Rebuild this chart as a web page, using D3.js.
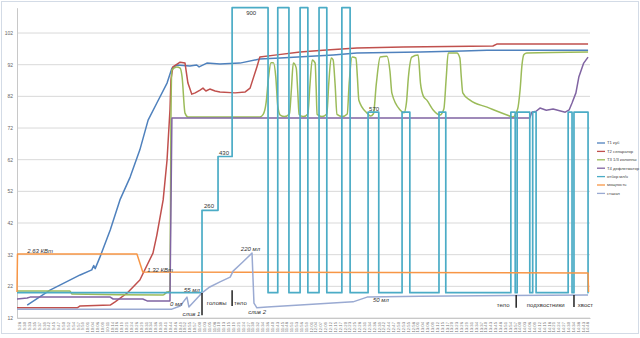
<!DOCTYPE html>
<html>
<head>
<meta charset="utf-8">
<script src="https://cdn.jsdelivr.net/npm/d3@7"></script>
<style>
  body { margin: 0; background: #fff; }
  svg text { font-family: "Liberation Sans", Arial, sans-serif; }
</style>
</head>
<body>
<div id="chart"></div>
<script>
// ===== DATA =====

// category axis (time of reading)
const timeLabels = [
  '9:28','9:30','9:33','9:35','9:37','9:39','9:42','9:45','9:47','9:50',
  '9:52','9:54','9:57','9:59','10:01','10:04','10:06','10:09','10:11','10:14',
  '10:16','10:19','10:21','10:24','10:26','10:29','10:31','10:34','10:36','10:39',
  '10:41','10:44','10:46','10:49','10:52','10:55','10:57','11:00','11:03','11:05',
  '11:08','11:10','11:13','11:15','11:19','11:21','11:24','11:27','11:30','11:32',
  '11:34','11:36','11:40','11:43','11:45','11:48','11:51','11:53','11:56','11:59',
  '12:01','12:04','12:07','12:09','12:12','12:15','12:17','12:20','12:23','12:25',
  '12:28','12:31','12:34','12:36','12:39','12:42','12:44','12:47','12:50','12:53',
  '12:55','12:58','13:01','13:04','13:06','13:09','13:12','13:15','13:17','13:20',
  '13:23','13:26','13:29','13:31','13:34','13:37','13:40','13:43','13:45','13:48',
  '13:51','13:54','13:57','14:00','14:03','14:06','14:09','14:12','14:15','14:18',
  '14:21','14:24','14:27','14:30','14:34','14:38','14:43','14:48'
];

const yTicks = [12, 22, 32, 42, 52, 62, 72, 82, 92, 102];

const seriesNames = ['T1 куб', 'T2 сепаратор', 'T3 1/3 колонны', 'T4 дефлегматор',
  'отбор мл/ч', 'мощность', 'стакан'];

// [category index, value]
const t1Kub = [
  [1.6,16.1],[6.3,20.8],[12.5,25.6],[14.9,27.2],[15.3,28.6],[15.6,27.6],[16.6,31.3],
  [18.7,39.8],[20.7,49.3],[22.8,56.5],[24.8,65.1],[26.5,74.5],[28.3,79.9],[30.4,86.2],
  [31.4,90.9],[32.4,91.9],[35.1,91.6],[36.5,91.9],[37.0,91.3],[38.6,92.5],[41.3,92.2],
  [45.4,92.5],[49.5,93.8],[53.7,94.1],[64.6,95.1],[69.5,95.7],[82.5,96.0],[91.3,96.3],
  [96.3,96.6],[117.1,96.6]
];

const t2Separator = [
  [-0.5,15.2],[11.9,15.2],[12.5,15.8],[18.7,16.1],[19.7,17.1],[22.2,19.9],[24.8,24.0],
  [27.5,32.5],[28.3,38.2],[29.6,49.3],[30.4,61.9],[31.0,77.7],[31.2,87.2],[31.6,91.3],
  [33.1,92.8],[34.1,92.5],[34.7,86.2],[35.5,82.7],[36.2,83.1],[37.2,84.0],[37.8,84.6],
  [38.4,83.7],[39.2,84.3],[40.3,83.7],[41.3,83.4],[44.4,83.1],[46.5,83.4],[47.5,84.6],
  [48.9,91.3],[49.5,94.4],[53.0,95.1],[57.8,96.0],[62.5,96.6],[69.5,97.3],[79.0,97.6],
  [97.5,97.9],[98.3,98.5],[117.1,98.5]
];

const t3Column = [
  [-0.5,20.5],[10.4,20.5],[10.8,19.6],[29.6,19.3],[30.4,20.2],[31.0,20.5],[31.2,74.5],
  [31.4,90.3],[32.4,91.3],[33.1,90.9],[33.5,88.1],[34.1,76.7],[34.7,75.5],[49.5,75.5],
  [50.2,76.3],[50.8,80],[51.3,88],[51.8,92.6],[52.3,92.6],[52.8,88],[53.2,79],[53.7,76.1],
  [54.6,75.6],[55.6,76.4],[56.0,84],[56.4,92.5],[57.0,91.0],[57.3,84],[57.6,76.3],
  [58.5,75.6],[59.4,76.4],[59.8,85],[60.3,93.5],[60.9,92.5],[61.1,85],[61.3,76.3],
  [62.3,75.6],[63.3,76.4],[63.7,86],[64.2,94.1],[64.6,93.5],[65.0,86],[65.4,76.3],
  [66.5,75.6],[67.5,76.4],[67.9,86],[68.5,94.4],[69.3,94.1],[69.6,88],[69.9,80.8],
  [71.6,76.7],[72.3,75.8],[72.9,76.5],[73.5,86],[74.3,94.4],[75.7,94.7],[76.3,90],
  [76.7,83],[78.4,77.7],[79.2,76.8],[79.7,80],[80.1,88],[80.8,94.4],[82.1,95.1],
  [82.6,86],[83.2,82],[83.9,80.8],[85.2,77.7],[86.6,76.1],[87.4,78],[87.9,88],
  [88.3,95.7],[90.1,95.7],[90.7,94.1],[91.0,88],[91.3,83.1],[92.8,80.8],[96.3,78.6],
  [100.4,76.1],[101.6,75.5],[102.6,78],[103.1,84],[103.5,92],[103.9,95.2],[104.5,95.7],
  [117.1,96.0]
];

const t4Reflux = [
  [-0.5,18.0],[1.6,18.3],[2.2,18.6],[18.7,18.6],[19.3,18.0],[25.4,18.0],[26.3,17.4],
  [31.0,17.4],[31.4,75.2],[105.1,75.2],[105.5,77.0],[106.4,77.3],[107.2,78.3],
  [108.5,77.6],[109.9,78.0],[112.4,77.0],[113.2,77.7],[113.8,79.9],[114.6,83.1],
  [115.2,88.1],[116.2,92.5],[117.1,94.4]
];

// ml/h, step series
const otborMl = [
  [-0.5,0],[37.6,260],[40.9,430],[43.8,900],[51.2,0],[53.2,900],[55.5,0],[57.8,900],
  [59.4,0],[61.7,900],[63.3,0],[66.4,900],[68.1,0],[71.8,570],[74.0,0],[78.8,570],
  [80.4,0],[86.4,570],[87.8,0],[101.2,570],[102.1,0],[102.5,570],[105.1,0],[105.7,570],
  [106.4,0],[113.0,570],[113.8,0],[114.2,570],[117.1,0],[117.2,0]
];

const power = [
  [-0.5,20.2],[-0.4,32.2],[24.2,32.2],[25.4,26.5],[117.1,26.2],[117.2,20.2]
];

const glass = [
  [-0.5,14.8],[31.4,14.8],[33.1,15.8],[34.5,18.6],[34.9,15.5],[37.2,19.3],[37.8,20.2],
  [39.2,21.8],[41.3,23.4],[43.4,24.9],[44.0,26.8],[46.0,29.7],[47.9,32.5],[48.3,16.7],
  [48.9,15.2],[51.0,15.5],[57.8,16.1],[68.7,17.1],[71.6,18.6],[82.5,18.9],[117.1,19.3]
];

// annotation shapes: [category index, from, to]
const markers = [[37.6,12.9,19.9],[43.8,15.8,20.8],[102.3,15.2,19.3],[114.2,15.5,19.3]];

// annotation texts: [category index, value, text, italic]
const notes = [
  [1.6,32.5,'2.63 КВт',true],[26.3,26.5,'1.32 КВт',true],[31.0,15.8,'0 мл',true],
  [33.9,20.2,'55 мл',true],[33.6,12.6,'слив 1',true],[38.6,16.1,'головы',false],
  [44.2,16.1,'тело',false],[45.6,33.2,'220 мл',true],[47.1,13.3,'слив 2',true],
  [72.8,17.1,'50 мл',true],[72.0,77.4,'570',false],[46.7,107.7,'900',false],
  [38.0,46.7,'260',false],[41.1,63.5,'430',false],[98.3,15.5,'тело',false],
  [104.5,15.5,'подхвостники',false],[115.0,15.5,'хвост',false]
];

// ===== STYLE =====
const colors = ['#4F81BD', '#C0504D', '#9BBB59', '#8064A2', '#4BACC6', '#F79646', '#9AAAD2'];

const W = 640, H = 338;
const svg = d3.select('#chart').append('svg')
  .attr('width', W)
  .attr('height', H);

svg.append('rect')
  .attr('x', 1.5).attr('y', 1.5)
  .attr('width', W - 3).attr('height', 332)
  .attr('fill', '#fff')
  .attr('stroke', '#d3dbe6');

const x = d3.scaleLinear().domain([-0.5, timeLabels.length - 0.5]).range([17, 590]);
const y = d3.scaleLinear().domain([12, 110]).range([318, 7.7]);
const yMl = d3.scaleLinear().domain([0, 900]).range([y(20), y(110)]);

// gridlines
svg.append('g')
  .selectAll('line')
  .data(yTicks)
  .join('line')
  .attr('x1', x.range()[0]).attr('x2', x.range()[1])
  .attr('y1', d => y(d)).attr('y2', d => y(d))
  .attr('stroke', '#d9d9d9');

// y axis
const yAxis = svg.append('g')
  .attr('transform', `translate(${x.range()[0]},0)`)
  .call(d3.axisLeft(y).tickValues(yTicks).tickSize(0).tickPadding(4));
yAxis.select('.domain').attr('stroke', '#c8c8c8');
yAxis.selectAll('text')
  .attr('font-size', 5)
  .attr('fill', '#666');

// x axis labels
const xAxis = svg.append('g')
  .attr('transform', `translate(0,${y(12)})`)
  .call(d3.axisBottom(x).tickValues(d3.range(timeLabels.length))
    .tickFormat(i => timeLabels[i]).tickSize(0));
xAxis.select('.domain').attr('stroke', '#c8c8c8');
xAxis.selectAll('text')
  .attr('font-size', 4.2)
  .attr('fill', '#777')
  .attr('text-anchor', 'end')
  .attr('dy', '0.32em')
  .attr('transform', 'translate(0,4) rotate(-90)')
  .attr('x', 0).attr('y', 0);

// series lines
const line = d3.line().x(d => x(d[0])).y(d => y(d[1]));
const smooth = d3.line().curve(d3.curveMonotoneX).x(d => x(d[0])).y(d => y(d[1]));
const step = d3.line().curve(d3.curveStepAfter).x(d => x(d[0])).y(d => yMl(d[1]));

const plotted = [
  [t1Kub, line], [t2Separator, line], [t3Column, smooth], [t4Reflux, line],
  [otborMl, step], [power, line], [glass, line]
];

plotted.forEach(([data, gen], k) => {
  svg.append('path')
    .attr('d', gen(data))
    .attr('fill', 'none')
    .attr('stroke', colors[k])
    .attr('stroke-width', k === 4 ? 1.7 : 1.5)
    .attr('stroke-linejoin', 'round');
});

// annotation shapes
svg.append('g')
  .selectAll('line')
  .data(markers)
  .join('line')
  .attr('x1', d => x(d[0])).attr('x2', d => x(d[0]))
  .attr('y1', d => y(d[1])).attr('y2', d => y(d[2]))
  .attr('stroke', '#222')
  .attr('stroke-width', 1.5);

svg.append('g')
  .selectAll('text')
  .data(notes)
  .join('text')
  .attr('x', d => x(d[0]))
  .attr('y', d => y(d[1]))
  .attr('font-size', 6)
  .attr('font-style', d => d[3] ? 'italic' : 'normal')
  .attr('fill', '#333')
  .text(d => d[2]);

// legend
const legend = svg.append('g')
  .attr('transform', 'translate(597,143)')
  .selectAll('g')
  .data(seriesNames)
  .join('g')
  .attr('transform', (d, i) => `translate(0,${i * 8.4})`);

legend.append('line')
  .attr('x1', 0).attr('x2', 8)
  .attr('stroke', (d, i) => colors[i])
  .attr('stroke-width', 1.3);

legend.append('text')
  .attr('x', 10)
  .attr('dy', '0.35em')
  .attr('font-size', 4.2)
  .attr('fill', '#444')
  .text(d => d);
</script>
</body>
</html>
